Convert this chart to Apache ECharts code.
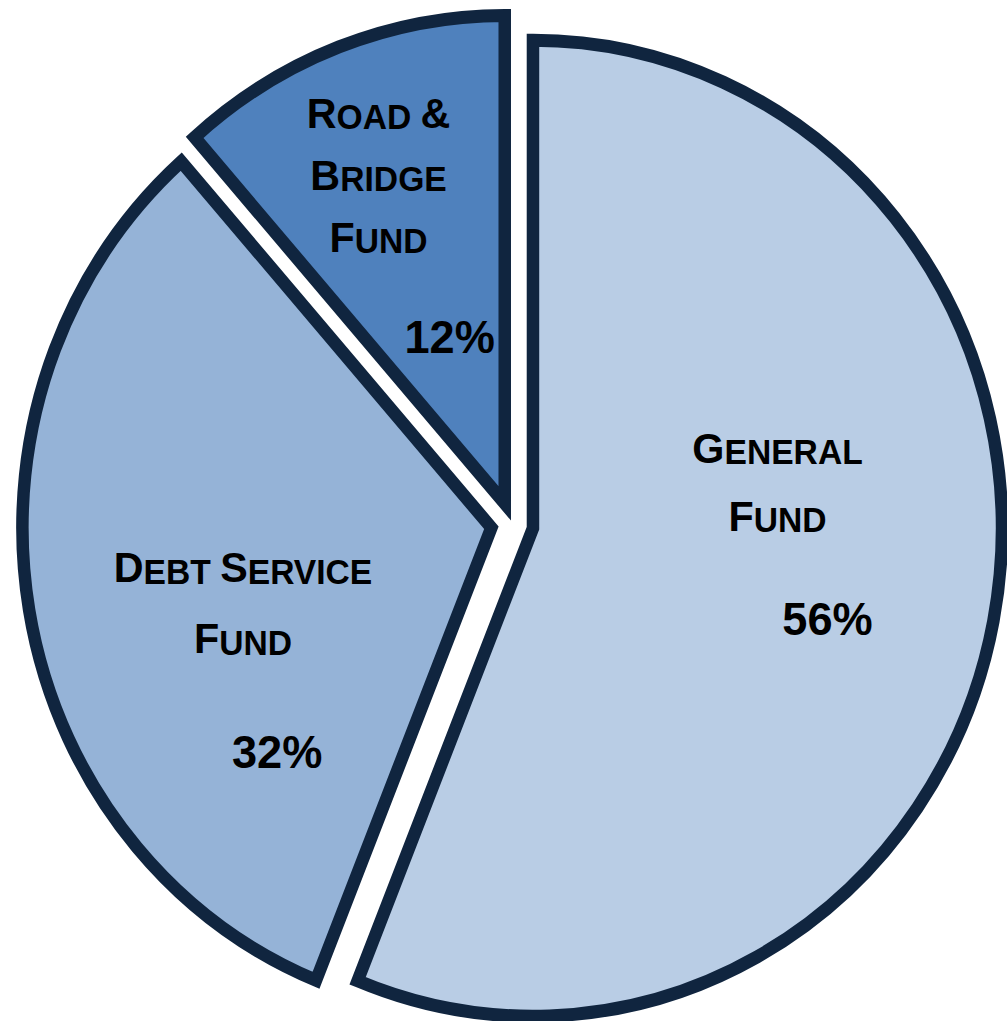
<!DOCTYPE html>
<html><head><meta charset="utf-8">
<script src="https://cdn.jsdelivr.net/npm/echarts@6/dist/echarts.min.js"></script>
<style>
html,body{margin:0;padding:0;background:#fff;overflow:hidden}
#wrap{width:1007px;height:1021px;overflow:hidden;position:relative}
#chart{width:1048px;height:1021px;transform:scaleX(0.961);transform-origin:0 0}
</style></head>
<body><div id="wrap"><div id="chart"></div></div>
<script>
// ---- data (shares; labels show them rounded) ----
const categories = ['General Fund', 'Debt Service Fund', 'Road & Bridge Fund'];
const values = [56.1, 32.4, 11.5];

// ---- styles / layout ----
const fills = ['#b9cde5', '#95b3d7', '#4f81bd'];
const lineBreaks = [[1], [2], [2, 3]];          // word index where a new label line begins
const labelShift = [[12, -24.5], [-15, 111], [-44, -29]];
const nameLineH = [68, 71, 62];
const pctLineH = [162, 183, 156];
const pctPadLeft = [104, 71, 148];
const FONT = '"Liberation Sans", Arial, sans-serif';

function smallCaps(str) {
  let out = '', run = '', runType = null;
  const flush = () => { if (run) { out += '{' + runType + '|' + run + '}'; } run = ''; };
  for (const ch of str) {
    const t = (/[a-z ]/.test(ch)) ? 's' : 'b';
    if (t !== runType) { flush(); runType = t; }
    run += (t === 's') ? ch.toUpperCase() : ch;
  }
  flush();
  return out;
}
function wrapName(name, breaks) {
  const words = name.split(' ');
  const lines = [];
  let cur = [];
  words.forEach((w, i) => {
    if (breaks.indexOf(i) >= 0) { lines.push(cur.join(' ')); cur = []; }
    cur.push(w);
  });
  lines.push(cur.join(' '));
  return lines;
}

const seriesData = categories.map((name, i) => {
  const L = nameLineH[i];
  return {
    name: name,
    value: values[i],
    selected: true,
    itemStyle: { color: fills[i] },
    label: {
      formatter: function (p) {
        return wrapName(p.name, lineBreaks[p.dataIndex]).map(smallCaps).join('\n') +
          '\n{p|' + Math.round(p.percent) + '%}';
      },
      rich: {
        b: { fontFamily: FONT, fontWeight: 'bold', fontSize: 43, color: '#000', lineHeight: L, verticalAlign: 'bottom' },
        s: { fontFamily: FONT, fontWeight: 'bold', fontSize: 35, color: '#000', lineHeight: L - 6, verticalAlign: 'bottom' },
        p: { fontFamily: FONT, fontWeight: 'bold', fontSize: 47, color: '#000', lineHeight: pctLineH[i], padding: [0, 0, 0, pctPadLeft[i]] }
      }
    }
  };
});

const chart = echarts.init(document.getElementById('chart'), null, { renderer: 'svg' });
chart.setOption({
  animation: false,
  series: [{
    type: 'pie',
    center: [533, 524],
    radius: 488,
    startAngle: 90,
    clockwise: true,
    selectedMode: 'multiple',
    selectedOffset: 22,
    avoidLabelOverlap: false,
    percentPrecision: 1,
    itemStyle: { borderColor: '#10253f', borderWidth: 13, borderJoin: 'miter', borderMiterLimit: 10 },
    label: { show: true, position: 'inside', color: '#000', align: 'center' },
    labelLine: { show: false },
    emphasis: { disabled: true },
    labelLayout: function (params) {
      const s = labelShift[params.dataIndex];
      return { dx: s[0], dy: s[1] };
    },
    data: seriesData
  }]
});
</script>
</body></html>
